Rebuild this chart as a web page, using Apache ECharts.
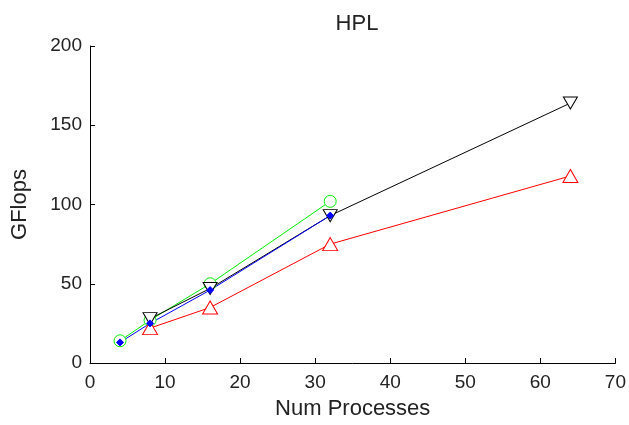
<!DOCTYPE html>
<html>
<head>
<meta charset="utf-8">
<script src="https://cdn.jsdelivr.net/npm/echarts@6/dist/echarts.min.js"></script>
<style>
html, body { margin: 0; padding: 0; background: #fff; }
#fig_hpl { width: 629px; height: 425px; }
</style>
</head>
<body>
<div id="fig_hpl"></div>
<script>
// values
var procs_green = [4, 8, 16, 32];
var gflops_green = [14, 27, 50, 102];
var procs_blue = [4, 8, 16, 32];
var gflops_blue = [13, 25, 46, 93];
var procs_black = [8, 16, 32, 64];
var gflops_black = [28, 47, 93, 164];
var procs_red = [8, 16, 32, 64];
var gflops_red = [22, 35, 75, 118];

var x_ticks = [0, 10, 20, 30, 40, 50, 60, 70];
var y_ticks = [0, 50, 100, 150, 200];

function pairs(xs, ys) {
    return xs.map(function(v, i) { return [v, ys[i]]; });
}

function make_series(name, xs, ys, color, symbol, size, filled) {
    return {
        name: name,
        type: 'line',
        data: pairs(xs, ys),
        symbol: symbol,
        symbolSize: size,
        showAllSymbol: true,
        lineStyle: { color: color, width: 1 },
        itemStyle: {
            color: filled ? color : '#fff',
            borderColor: color,
            borderWidth: 1
        },
        z: 2
    };
}

var down_tri = 'path://M0,0 L10,0 L5,9 Z';
var font = 'Liberation Sans';

var option = {
    animation: false,
    backgroundColor: '#fff',
    title: {
        text: 'HPL',
        left: 352,
        textAlign: 'center',
        top: 8,
        textStyle: {
            fontFamily: font,
            fontWeight: 'normal',
            fontSize: 22,
            color: '#222'
        }
    },
    grid: {
        left: 90,
        right: 12,
        top: 46,
        bottom: 62
    },
    xAxis: {
        type: 'value',
        min: 0,
        max: 70,
        interval: 10,
        name: 'Num Processes',
        nameLocation: 'middle',
        nameGap: 35,
        nameTextStyle: { fontFamily: font, fontSize: 22, color: '#222' },
        axisLine: { lineStyle: { color: '#000', width: 1 } },
        axisTick: { inside: true, length: 5, lineStyle: { color: '#000' } },
        axisLabel: {
            fontFamily: font, fontSize: 19, color: '#222', margin: 10,
            formatter: function(v) { return x_ticks.indexOf(v) >= 0 ? String(v) : ''; }
        },
        splitLine: { show: false }
    },
    yAxis: {
        type: 'value',
        min: 0,
        max: 200,
        interval: 50,
        name: 'GFlops',
        nameLocation: 'middle',
        nameGap: 59,
        nameRotate: 90,
        nameTextStyle: { fontFamily: font, fontSize: 22, color: '#222' },
        axisLine: { show: true, lineStyle: { color: '#000', width: 1 } },
        axisTick: { show: true, inside: true, length: 5, lineStyle: { color: '#000' } },
        axisLabel: {
            fontFamily: font, fontSize: 19, color: '#222', margin: 8,
            formatter: function(v) { return y_ticks.indexOf(v) >= 0 ? String(v) : ''; }
        },
        splitLine: { show: false }
    },
    series: [
        make_series('green', procs_green, gflops_green, '#00ee00', 'circle', 12, false),
        make_series('black', procs_black, gflops_black, '#000000', down_tri, [14, 12], false),
        make_series('red', procs_red, gflops_red, '#ff0000', 'triangle', [15, 13], false),
        make_series('blue', procs_blue, gflops_blue, '#0000ff', 'diamond', 7, true)
    ]
};

var chart = echarts.init(document.getElementById('fig_hpl'));
chart.setOption(option);
</script>
</body>
</html>
